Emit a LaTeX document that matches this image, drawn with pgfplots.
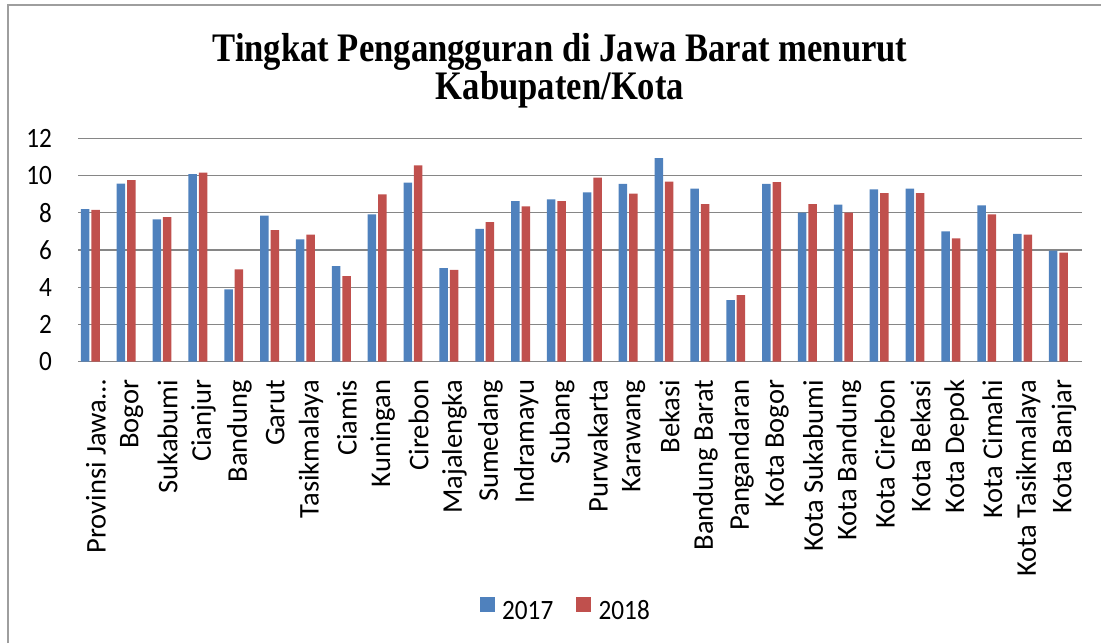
\documentclass[border=0pt]{standalone}
\usepackage{fontspec}
\usepackage{pgfplots}
\pgfplotsset{compat=1.18}
\setmainfont{Carlito}[FakeStretch=0.9]
\newfontfamily\rotfont{Carlito}
\newfontfamily\titlefont{Liberation Serif}[FakeStretch=0.855]
\newcommand\labfont{\fontsize{28}{32}\selectfont}
\newcommand\rotlabfont{\rotfont\fontsize{28.5}{32}\selectfont}
\newcommand\ttlfont{\titlefont\bfseries\fontsize{40.5}{42}\selectfont}
\definecolor{c17}{HTML}{4F81BD}
\definecolor{c18}{HTML}{C0504D}
\definecolor{gridc}{HTML}{868686}

\pgfplotstableread{
idx y17 y18
0 8.20 8.16
1 9.57 9.75
2 7.65 7.76
3 10.08 10.16
4 3.89 4.96
5 7.85 7.07
6 6.57 6.82
7 5.14 4.60
8 7.92 8.99
9 9.62 10.55
10 5.02 4.93
11 7.13 7.50
12 8.63 8.35
13 8.72 8.63
14 9.10 9.89
15 9.55 9.03
16 10.94 9.67
17 9.30 8.47
18 3.31 3.58
19 9.55 9.65
20 8.01 8.47
21 8.44 8.01
22 9.26 9.06
23 9.30 9.06
24 7.00 6.63
25 8.40 7.92
26 6.86 6.82
27 5.96 5.86
}\datatable

\begin{document}
\begin{tikzpicture}
\path[use as bounding box] (0pt,0pt) rectangle (1101pt,643pt);
\draw[gridc!80, line width=1.5pt] (8pt,0pt) -- (8pt,638pt) -- (1101pt,638pt);
\node[font=\ttlfont, anchor=base, inner sep=0pt] at (560pt,581pt) {Tingkat Pengangguran di Jawa Barat menurut};
\node[font=\ttlfont, anchor=base, inner sep=0pt] at (560pt,543pt) {Kabupaten/Kota};
\begin{axis}[
  at={(78pt,281.3pt)}, anchor=south west,
  scale only axis, width=1004pt, height=223.4pt,
  xmin=-0.5, xmax=27.5, ymin=0, ymax=12,
  axis lines*=left,
  y axis line style={draw=none},
  x axis line style={gridc, line width=1.5pt},
  ymajorgrids, grid style={gridc, line width=1.3pt},
  ytick={0,2,...,12},
  xtick={0,...,27},
  xticklabels={Provinsi Jawa…,Bogor,Sukabumi,Cianjur,Bandung,Garut,Tasikmalaya,Ciamis,Kuningan,Cirebon,Majalengka,Sumedang,Indramayu,Subang,Purwakarta,Karawang,Bekasi,Bandung Barat,Pangandaran,Kota Bogor,Kota Sukabumi,Kota Bandung,Kota Cirebon,Kota Bekasi,Kota Depok,Kota Cimahi,Kota Tasikmalaya,Kota Banjar},
  major tick length=0pt,
  yticklabel style={font=\labfont, anchor=east, inner sep=0pt},
  xticklabel style={font=\rotlabfont, rotate=90, anchor=east, inner sep=0pt},
  xticklabel shift=18pt, yticklabel shift=26pt,
  /pgf/number format/assume math mode=true,
  legend columns=2,
  legend style={at={(0.400,-1.107)}, anchor=west, draw=none, fill=none, inner sep=0pt,
    font=\labfont, nodes={inner sep=0pt, font=\labfont},
    /tikz/every odd column/.append style={column sep=8pt},
    /tikz/every even column/.append style={column sep=23pt}},
]
\addlegendimage{legend image code/.code={\fill[c17] (0pt,0pt) rectangle (14pt,14pt);}}
\addlegendentry{2017}
\addlegendimage{legend image code/.code={\fill[c18] (0pt,0pt) rectangle (14pt,14pt);}}
\addlegendentry{2018}
\addplot[ybar, bar width=8.5pt, bar shift=-10.85pt, fill=c17, draw=none, forget plot] table[x=idx, y=y17] {\datatable};
\addplot[ybar, bar width=8.5pt, bar shift=-0.4pt, fill=c18, draw=none, forget plot] table[x=idx, y=y18] {\datatable};
\end{axis}
\end{tikzpicture}
\end{document}
